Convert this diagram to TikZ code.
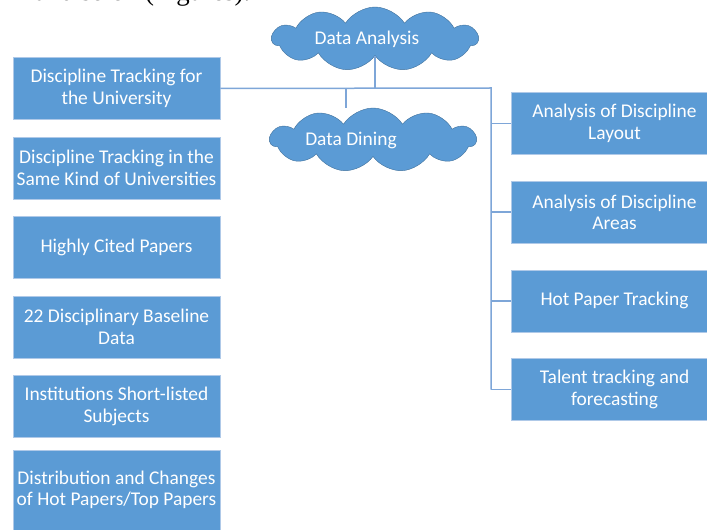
\documentclass[tikz,border=0pt]{standalone}
\usepackage{fontspec}
\setmainfont{Carlito}
\newfontfamily\serifpart{Liberation Serif}
\usepackage{xcolor}
\usepackage{tikz}
\usetikzlibrary{shapes.symbols}
\usetikzlibrary{positioning}
\definecolor{officeblue}{HTML}{5B9BD5}
\definecolor{boxedge}{HTML}{AFC9E8}
\definecolor{cloudedge}{HTML}{41719C}
\definecolor{linkblue}{HTML}{7EA6D8}
\tikzset{box/.style={draw=boxedge, fill=officeblue, text=white, line width=0.8bp, minimum width=207bp, minimum height=62bp, inner sep=0pt, align=center, font=\fontsize{19.5}{21.5}\selectfont}}
\tikzset{cloudy/.style={draw=cloudedge, fill=officeblue, cloud, cloud puffs=11, cloud puff arc=115, cloud ignores aspect, minimum width=206bp, minimum height=64bp, inner sep=0pt, label={[text=white, font=\fontsize{19.5}{21.5}\selectfont]center:#1}}}
\tikzset{link/.style={draw=linkblue, line width=1.5bp}}

\begin{document}
\begin{tikzpicture}[x=1bp, y=-1bp, node distance={79.5bp}]
		\path[use as bounding box] (0,0) rectangle (707,530);
		\clip (0,0) rectangle (707,530);
		\node[anchor=base west, inner sep=0pt, font=\serifpart\fontsize{27}{30}\selectfont] (T) at (35,1) {and so on (Figures).};
		
		\node[cloudy={\hspace*{-16bp}Data Analysis}] (DA) at (375,39) {};
		\node[cloudy={\hspace*{-44bp}Data Dining}] (DD) at (373,140) {};
		
		\node[box] (L1) at (116.5,88.5) {Discipline Tracking for\\the University};
		\node[box] (L2) [below of=L1] {Discipline Tracking in the\\Same Kind of Universities};
		\node[box] (L3) [below of=L2] {Highly Cited Papers};
		\node[box] (L4) [below of=L3] {22 Disciplinary Baseline\\Data};
		\node[box] (L5) [below of=L4] {Institutions Short-listed\\Subjects};
		\node[box, minimum height=80bp] (L6) [below of=L5, yshift=-4bp] {Distribution and Changes\\of Hot Papers/Top Papers};
		
		\begin{scope}[node distance={88.7bp}]
			\node[box] (R1) at (614.5,123.5) {Analysis of Discipline\\Layout};
			\node[box] (R2) [below of=R1] {Analysis of Discipline\\Areas};
			\node[box] (R3) [below of=R2] {Hot Paper Tracking};
			\node[box] (R4) [below of=R3] {Talent tracking and\\forecasting};
		\end{scope}
		
		\coordinate (hub) at (491,88);
		\coordinate (fork) at (346,88);
		\draw[link] (L1.east) -- (hub) -- (hub |- R4.west);
		\draw[link] (DA.south) -- (DA.south |- hub);
		\draw[link] (fork) -- (fork |- DD.north);
		\foreach \r in {R1,R2,R3,R4}
			\draw[link] (hub |- \r.west) -- (\r.west);
	\end{tikzpicture}
\end{document}
